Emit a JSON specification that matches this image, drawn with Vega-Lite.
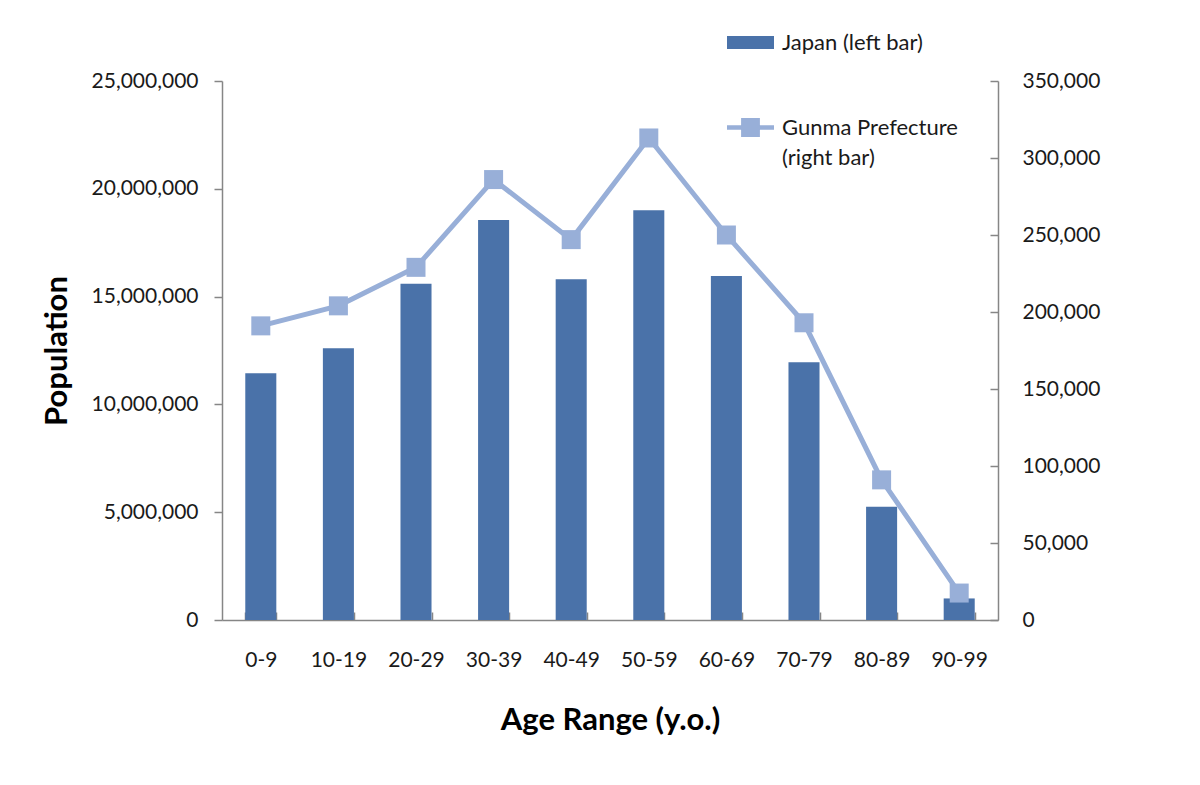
{
  "$schema": "https://vega.github.io/schema/vega-lite/v6.json",
  "width": 776,
  "height": 539,
  "autosize": "none",
  "padding": {"left": 222, "top": 81, "right": 202, "bottom": 165},
  "background": "white",
  "config": {
    "font": "Lato",
    "view": {"stroke": null},
    "axis": {
      "domainColor": "#868686",
      "tickColor": "#868686",
      "domainWidth": 1.5,
      "tickWidth": 1.5,
      "labelFont": "Lato",
      "labelFontSize": 21,
      "labelColor": "#1a1a1a",
      "titleFont": "Lato",
      "titleFontSize": 31,
      "titleFontWeight": "bold",
      "titleColor": "#000000",
      "grid": false
    }
  },
  "data": {
    "values": [
      {"age": "0-9", "japan": 11450000, "gunma": 191000},
      {"age": "10-19", "japan": 12600000, "gunma": 204000},
      {"age": "20-29", "japan": 15600000, "gunma": 229000},
      {"age": "30-39", "japan": 18550000, "gunma": 286000},
      {"age": "40-49", "japan": 15800000, "gunma": 247000},
      {"age": "50-59", "japan": 19000000, "gunma": 313000},
      {"age": "60-69", "japan": 15950000, "gunma": 250000},
      {"age": "70-79", "japan": 11950000, "gunma": 193000},
      {"age": "80-89", "japan": 5250000, "gunma": 91000},
      {"age": "90-99", "japan": 1000000, "gunma": 17500}
    ]
  },
  "encoding": {
    "x": {
      "field": "age",
      "type": "nominal",
      "sort": null,
      "scale": {"paddingInner": 0.6, "paddingOuter": 0.3},
      "axis": {
        "title": "Age Range (y.o.)",
        "labelAngle": 0,
        "tickBand": "extent",
        "tickSize": -8,
        "labelPadding": 37,
        "titlePadding": 35
      }
    }
  },
  "layer": [
    {
      "mark": {"type": "bar"},
      "encoding": {
        "y": {
          "field": "japan",
          "type": "quantitative",
          "scale": {"domain": [0, 25000000]},
          "axis": {
            "title": "Population",
            "values": [0, 5000000, 10000000, 15000000, 20000000, 25000000],
            "format": ",d",
            "tickSize": 8,
            "labelPadding": 16,
            "titlePadding": 18
          }
        },
        "color": {
          "datum": "Japan (left bar)",
          "type": "nominal",
          "scale": {
            "domain": ["Japan (left bar)", "Gunma Prefecture (right bar)"],
            "range": ["#4A72A9", "#98AFD8"]
          },
          "legend": {
            "title": null,
            "orient": "none",
            "legendX": 505,
            "legendY": -62,
            "direction": "vertical",
            "rowPadding": 50,
            "labelFontSize": 22,
            "labelColor": "#1a1a1a",
            "labelOffset": 8,
            "labelLimit": 400,
            "symbolSize": 2209,
            "labelExpr": "datum.label === 'Gunma Prefecture (right bar)' ? ['Gunma Prefecture', '(right bar)'] : datum.label",
            "encode": {
              "labels": {"update": {"lineHeight": {"value": 30}}},
              "symbols": {
                "update": {
                  "shape": {"signal": "datum.value === 'Japan (left bar)' ? 'M-1,-0.28H1V0.28H-1Z' : 'M-1,-0.1H1V0.1H-1Z M-0.4,-0.4H0.4V0.4H-0.4Z'"},
                  "fill": {"signal": "datum.value === 'Japan (left bar)' ? '#4A72A9' : '#98AFD8'"},
                  "stroke": {"value": null},
                  "strokeWidth": {"value": 0},
                  "opacity": {"value": 1},
                  "fillOpacity": {"value": 1}
                }
              }
            }
          }
        }
      }
    },
    {
      "mark": {
        "type": "line",
        "strokeWidth": 5,
        "point": {"shape": "square", "size": 361, "filled": true, "opacity": 1}
      },
      "encoding": {
        "y": {
          "field": "gunma",
          "type": "quantitative",
          "scale": {"domain": [0, 350000]},
          "axis": {
            "orient": "right",
            "title": null,
            "values": [0, 50000, 100000, 150000, 200000, 250000, 300000, 350000],
            "format": ",d",
            "tickSize": -8,
            "labelPadding": 32
          }
        },
        "color": {"datum": "Gunma Prefecture (right bar)", "type": "nominal"}
      }
    }
  ],
  "resolve": {"scale": {"y": "independent"}}
}
